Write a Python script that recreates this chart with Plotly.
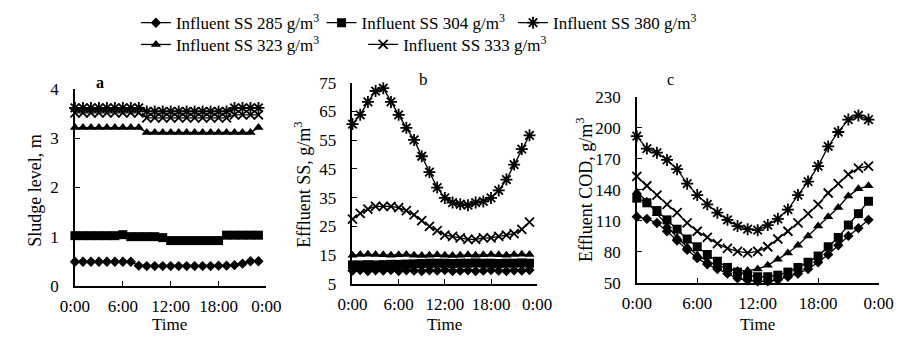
import plotly.graph_objects as go

hours = list(range(24))
tick_vals = [0, 6, 12, 18, 24]
tick_text = ["0:00", "6:00", "12:00", "18:00", "0:00"]

series_names = ["285", "304", "323", "333", "380"]

# Panel a: sludge level, m
a_285 = [0.49, 0.49, 0.49, 0.49, 0.49, 0.49, 0.49, 0.49, 0.41, 0.40, 0.40, 0.40,
         0.40, 0.40, 0.40, 0.40, 0.40, 0.40, 0.41, 0.41, 0.42, 0.45, 0.50, 0.50]
a_304 = [1.02, 1.02, 1.02, 1.02, 1.02, 1.02, 1.04, 1.00, 1.00, 1.00, 1.00, 0.98,
         0.92, 0.92, 0.92, 0.92, 0.92, 0.92, 0.92, 1.03, 1.03, 1.03, 1.03, 1.03]
a_323 = [3.22, 3.22, 3.22, 3.22, 3.22, 3.22, 3.22, 3.22, 3.22, 3.12, 3.12, 3.12,
         3.12, 3.12, 3.12, 3.12, 3.12, 3.12, 3.12, 3.12, 3.12, 3.12, 3.12, 3.22]
a_333 = [3.52, 3.52, 3.52, 3.52, 3.52, 3.52, 3.52, 3.52, 3.52, 3.42, 3.42, 3.42,
         3.42, 3.42, 3.42, 3.42, 3.42, 3.42, 3.42, 3.42, 3.48, 3.48, 3.48, 3.48]
a_380 = [3.62, 3.62, 3.62, 3.62, 3.62, 3.62, 3.62, 3.62, 3.62, 3.55, 3.55, 3.55,
         3.55, 3.55, 3.55, 3.55, 3.55, 3.55, 3.55, 3.55, 3.62, 3.62, 3.62, 3.62]

# Panel b: effluent SS, g/m3
b_285 = [9.6, 9.8, 9.5, 9.7, 9.6, 9.8, 9.5, 9.7, 9.6, 9.5, 9.7, 9.6,
         9.8, 9.5, 9.6, 9.7, 9.5, 9.6, 9.8, 9.6, 9.5, 9.7, 9.6, 9.8]
b_304 = [11.6, 11.6, 11.7, 11.6, 11.7, 11.8, 11.8, 11.9, 12.0, 12.1, 12.2, 12.2,
         12.2, 12.1, 12.2, 12.2, 12.3, 12.2, 12.2, 12.1, 12.2, 12.2, 12.3, 12.2]
b_323 = [15.0, 15.2, 15.3, 15.2, 15.1, 15.0, 15.1, 15.2, 15.0, 14.9, 15.0, 15.1,
         15.0, 14.9, 15.0, 15.1, 15.0, 15.1, 15.2, 15.1, 15.0, 15.2, 15.3, 15.2]
b_333 = [27.5, 29.5, 31.0, 32.0, 32.0, 32.0, 31.5, 30.5, 29.0, 27.0, 25.0, 23.5,
         22.0, 21.5, 21.0, 20.5, 20.5, 21.0, 21.0, 21.5, 22.0, 22.5, 24.0, 26.5]
b_380 = [60.6, 63.8, 68.3, 72.1, 73.1, 68.3, 63.8, 59.3, 55.1, 49.4, 43.9, 38.5,
         34.9, 33.3, 32.7, 32.4, 33.3, 33.7, 34.9, 37.5, 41.3, 46.5, 51.9, 56.7]

# Panel c: effluent COD, g/m3
c_285 = [114, 112, 108, 100, 91, 82, 74, 68, 63.5, 59, 54.5, 52.5,
         51.5, 51.5, 53, 56, 59, 63.5, 70, 77.5, 86.5, 95.5, 103, 111]
c_304 = [132, 127.5, 120, 111, 102, 92.5, 85, 77.5, 71, 65, 60.5, 57.5,
         56, 56, 57.5, 60.5, 65, 70, 76, 85, 94, 106, 117, 129]
c_323 = [138, 129, 117, 105, 94, 85, 77, 71, 67, 64, 62, 62,
         63.5, 67, 73, 79, 86.5, 95.5, 105, 114, 123, 134, 141, 144]
c_333 = [153, 144, 135, 126, 118, 108, 100, 94, 88, 83.5, 80.5, 79,
         80.5, 85, 92.5, 100, 108, 117, 126, 137, 146, 155, 161, 163]
c_380 = [192, 180, 176, 169, 160, 146, 135, 126, 118, 111, 105, 102,
         101, 106, 112, 121, 135, 148, 163, 182, 196, 208, 212, 208]

panel_a = [a_285, a_304, a_323, a_333, a_380]
panel_b = [b_285, b_304, b_323, b_333, b_380]
panel_c = [c_285, c_304, c_323, c_333, c_380]

FONT = "Liberation Serif"
W, H = 910, 343

symbols = {"285": "diamond", "304": "square", "323": "triangle-up",
           "333": "x-thin-open", "380": "asterisk-open"}
sizes = {"285": 8, "304": 9, "323": 9, "333": 9, "380": 10}
legend_ids = {"285": "legend", "304": "legend2", "380": "legend3",
              "323": "legend4", "333": "legend5"}

fig = go.Figure()
for axis_i, panel in enumerate([panel_a, panel_b, panel_c]):
    xa = "x" if axis_i == 0 else f"x{axis_i + 1}"
    ya = "y" if axis_i == 0 else f"y{axis_i + 1}"
    for name, vals in zip(series_names, panel):
        open_sym = symbols[name].endswith("open")
        fig.add_trace(go.Scatter(
            x=hours, y=vals, xaxis=xa, yaxis=ya,
            mode="lines+markers",
            name=f"Influent SS {name} g/m<sup>3</sup>",
            line=dict(color="black", width=1.3),
            marker=dict(symbol=symbols[name], size=sizes[name], color="black",
                        line=dict(color="black", width=1.8 if open_sym else 0)),
            showlegend=(axis_i == 0),
            legend=legend_ids[name],
            cliponaxis=False,
        ))

def px_x(p):
    return p / W

def px_y(p):
    return 1 - p / H

axis_common = dict(showline=True, linecolor="black", linewidth=1.5,
                   ticks="inside", ticklen=5, tickcolor="black", tickwidth=1.2,
                   showgrid=False, zeroline=False,
                   tickfont=dict(family=FONT, size=17, color="black"))

xspec = [(62, 260), (349, 540), (643, 893)]
yspec = [(85, 293, [0, 4], 1, 0), (78, 291, [5, 75], 10, 5), (93, 290, [50, 230], 30, 50)]

for i in range(3):
    sfx = "" if i == 0 else str(i + 1)
    x0, x1 = xspec[i]
    yt, yb, rng, dt, t0 = yspec[i]
    fig.layout[f"xaxis{sfx}"] = dict(
        axis_common, domain=[px_x(x0), px_x(x1)], range=[0, 24],
        tickvals=tick_vals, ticktext=tick_text, ticklabelstandoff=4,
        anchor=f"y{sfx}")
    fig.layout[f"yaxis{sfx}"] = dict(
        axis_common, domain=[px_y(yb), px_y(yt)], range=rng,
        tick0=t0, dtick=dt, ticklabelstandoff=11, anchor=f"x{sfx}")

legend_pos = {"legend": (125, 15), "legend2": (317, 15), "legend3": (515, 15),
              "legend4": (125, 38), "legend5": (360, 38)}
for lid, (lx, ly) in legend_pos.items():
    fig.layout[lid] = dict(x=px_x(lx), y=px_y(ly), xanchor="left", yanchor="middle",
                           orientation="h", bgcolor="rgba(0,0,0,0)",
                           font=dict(family=FONT, size=17, color="black"))

ann = []
def add_text(txt, x, y, size=17, angle=0):
    ann.append(dict(text=txt, x=px_x(x), y=px_y(y), xref="paper", yref="paper",
                    showarrow=False, textangle=angle,
                    font=dict(family=FONT, size=size, color="black"),
                    xanchor="center", yanchor="middle"))

add_text("Sludge level, m", 21, 192, 18, -90)
add_text("Effluent SS, g/m<sup>3</sup>", 298, 186, 18, -90)
add_text("Effluent COD, g/m<sup>3</sup>", 589, 192, 18, -90)
add_text("Time", 160, 334, 17)
add_text("Time", 444, 334, 17)
add_text("Time", 768, 334, 17)
add_text("<b>a</b>", 88, 78, 16)
add_text("b", 422, 75, 17)
add_text("c", 678, 75, 16)

fig.update_layout(width=W, height=H, margin=dict(l=0, r=0, t=0, b=0),
                  paper_bgcolor="white", plot_bgcolor="white",
                  font=dict(family=FONT, color="black"),
                  annotations=ann)

fig.write_html("out.html")
